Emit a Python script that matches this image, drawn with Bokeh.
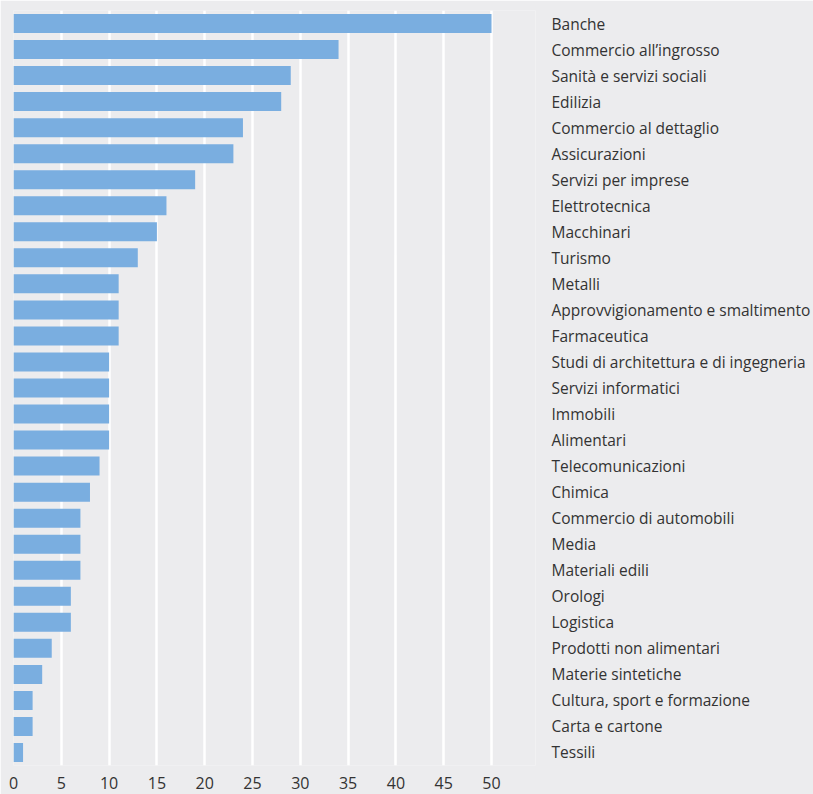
from bokeh.plotting import figure
from bokeh.models import FactorRange, Range1d, FixedTicker, LinearAxis, CategoricalAxis
from bokeh.embed import file_html
from bokeh.resources import INLINE

categories = [
    "Banche", "Commercio all’ingrosso", "Sanità e servizi sociali", "Edilizia",
    "Commercio al dettaglio", "Assicurazioni", "Servizi per imprese", "Elettrotecnica",
    "Macchinari", "Turismo", "Metalli", "Approvvigionamento e smaltimento",
    "Farmaceutica", "Studi di architettura e di ingegneria", "Servizi informatici",
    "Immobili", "Alimentari", "Telecomunicazioni", "Chimica",
    "Commercio di automobili", "Media", "Materiali edili", "Orologi", "Logistica",
    "Prodotti non alimentari", "Materie sintetiche", "Cultura, sport e formazione",
    "Carta e cartone", "Tessili",
]
values = [50, 34, 29, 28, 24, 23, 19, 16, 15, 13, 11, 11, 11, 10, 10, 10, 10, 9, 8,
          7, 7, 7, 6, 6, 4, 3, 2, 2, 1]
x_ticks = [0, 5, 10, 15, 20, 25, 30, 35, 40, 45, 50]

BG = "#ececee"
BAR = "#7aaee0"
TXT = "#333333"
FONT = "Open Sans"

p = figure(
    width=813, height=794,
    y_range=FactorRange(factors=categories[::-1], range_padding=0),
    x_range=Range1d(0, 54.6),
    output_backend="svg", toolbar_location=None,
    x_axis_location=None, y_axis_location=None,
    min_border_left=13, min_border_top=10, min_border_right=272, min_border_bottom=29,
)
p.background_fill_color = BG
p.border_fill_color = BG
p.outline_line_color = None

p.hbar(y=categories, right=values, left=0, height=0.73, color=BAR, line_color=None)

xaxis = LinearAxis(ticker=FixedTicker(ticks=x_ticks))
xaxis.axis_line_color = None
xaxis.major_tick_line_color = None
xaxis.minor_tick_line_color = None
xaxis.major_label_text_font = FONT
xaxis.major_label_text_font_size = "16px"
xaxis.major_label_text_color = TXT
xaxis.major_label_standoff = 5
p.add_layout(xaxis, "below")

yaxis = CategoricalAxis()
yaxis.axis_line_color = None
yaxis.major_tick_line_color = None
yaxis.minor_tick_line_color = None
yaxis.major_label_text_font = FONT
yaxis.major_label_text_font_size = "15.5px"
yaxis.major_label_text_color = TXT
yaxis.major_label_standoff = 10
p.add_layout(yaxis, "right")

p.xgrid.ticker = FixedTicker(ticks=x_ticks)
p.xgrid.grid_line_color = "white"
p.xgrid.grid_line_width = 2.5
p.ygrid.grid_line_color = None

open("out.html", "w").write(file_html(p, INLINE))
